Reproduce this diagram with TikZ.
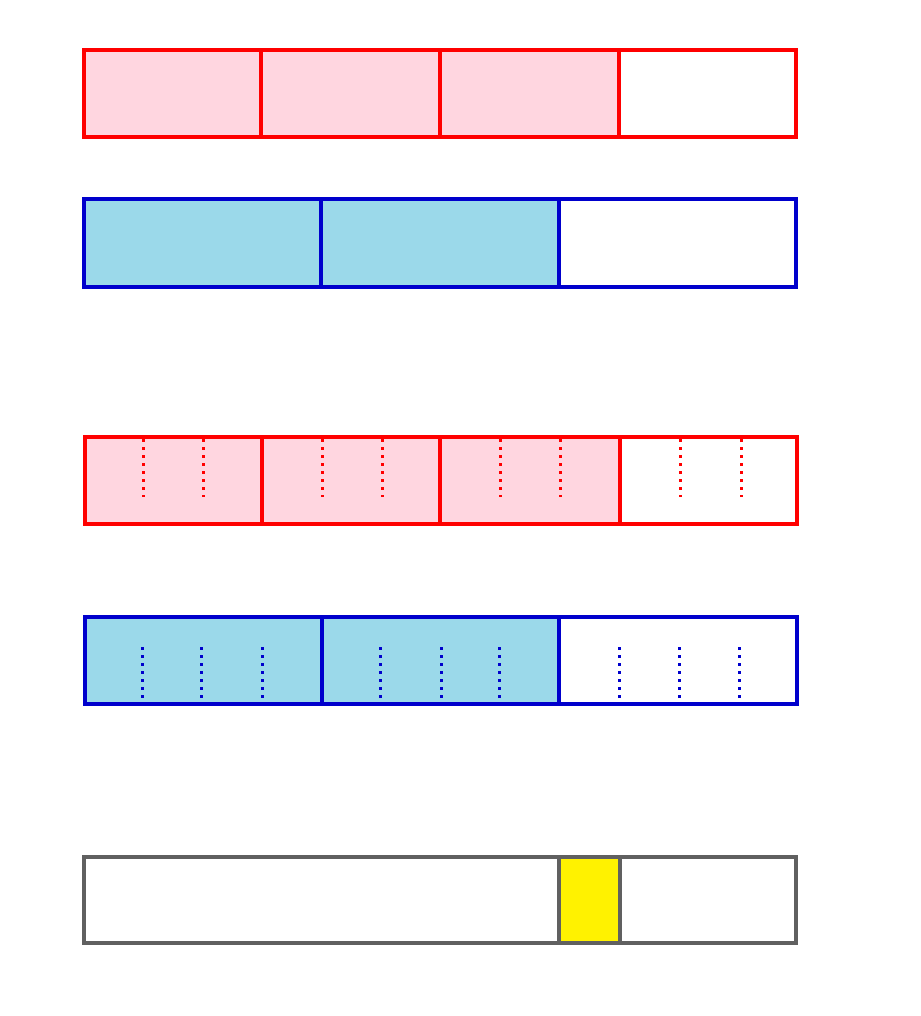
\documentclass[tikz,border=0pt]{standalone}
\usepackage{tikz}
\usetikzlibrary{positioning}
\definecolor{rosa}{RGB}{255,214,224}
\definecolor{rot}{RGB}{255,0,0}
\definecolor{hellblau}{RGB}{155,217,234}
\definecolor{blau}{RGB}{0,0,204}
\definecolor{grau}{RGB}{96,96,96}
\definecolor{gelb}{RGB}{255,242,0}
\tikzset{
  rand/.style={line width=3.6pt, line join=miter},
  punkte/.style={line width=3pt, dash pattern=on 3pt off 5pt}
}
\begin{document}
\begin{tikzpicture}[x=1pt,y=-1pt]
\useasboundingbox (0,0) rectangle (920,1016);
% viertel
\fill [rosa] (84,50) rectangle (619,137);
\draw [rot,rand] (84,50) rectangle (796,137);
\foreach \t in {261,440,619} \draw [rot,rand] (\t,50) -- (\t,137);
% drittel
\fill [hellblau] (84,199) rectangle (559,287);
\draw [blau,rand] (84,199) rectangle (796,287);
\foreach \t in {321,559} \draw [blau,rand] (\t,199) -- (\t,287);
% viertel in zwoelftel
\fill [rosa] (85,437) rectangle (620,524);
\draw [rot,rand] (85,437) rectangle (797,524);
\foreach \t in {262,440,620} \draw [rot,rand] (\t,437) -- (\t,524);
\foreach \t in {143,203,322,382,500,560,680,741} \draw [rot,punkte] (\t,439) -- (\t,497);
% drittel in zwoelftel
\fill [hellblau] (85,617) rectangle (559,704);
\draw [blau,rand] (85,617) rectangle (797,704);
\foreach \t in {322,559} \draw [blau,rand] (\t,617) -- (\t,704);
\foreach \t in {142,201,262,380,441,499,619,679,739} \draw [blau,punkte] (\t,647) -- (\t,703);
% ergebnis
\fill [gelb] (559,857) rectangle (620,943);
\draw [grau,rand] (84,857) rectangle (796,943);
\foreach \t in {559,620} \draw [grau,rand] (\t,857) -- (\t,943);
\end{tikzpicture}
\end{document}
